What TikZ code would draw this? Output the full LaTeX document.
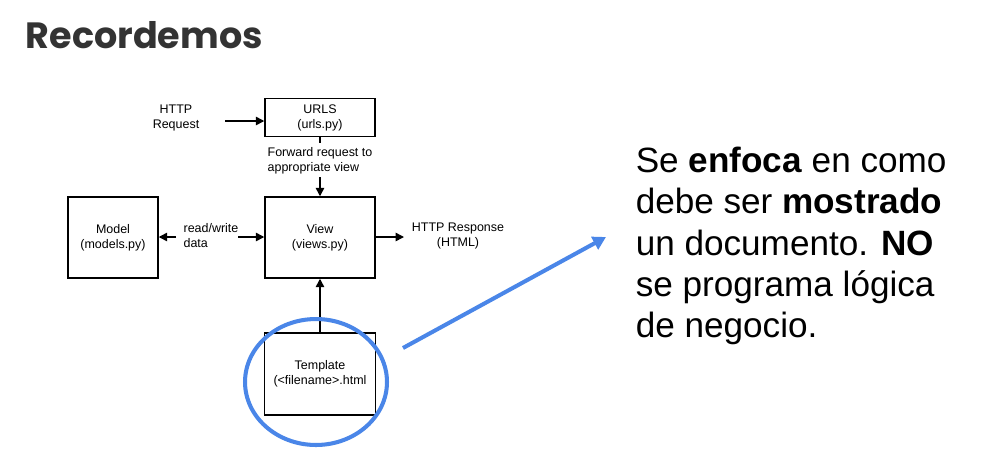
\documentclass[tikz,border=0pt]{standalone}
\usepackage{fontspec}
\setmainfont{Liberation Sans}
\newfontfamily\titlefont{Poppins}
\usepackage{tikz}
\usetikzlibrary{positioning,shapes,arrows.meta}
\definecolor{slideblue}{RGB}{74,134,232}
\definecolor{titlegray}{RGB}{51,51,51}

\begin{document}
\begin{tikzpicture}[
  x=0.02cm,y=-0.02cm,
  line width=0.85pt,
  mybox/.style={draw,rectangle,align=center,font=\fontsize{7.1}{8.5}\selectfont},
  mylabel/.style={align=center,font=\fontsize{7.1}{8.5}\selectfont},
  myarrow/.style={-{Triangle[length=1.7mm,width=1.7mm]}}
]
\useasboundingbox (0,0) rectangle (1000,457);

\node[anchor=base west,text=titlegray,inner sep=0pt,font=\fontsize{20.8}{24}\titlefont\bfseries] (title) at (25,48) {Recordemos};

\node[mybox,minimum width=2.2cm,minimum height=0.7cm] (urls) at (320,117.5) {URLS\\(urls.py)};
\node[mybox,minimum width=2.2cm,minimum height=1.62cm] (view) at (320,237.5) {View\\(views.py)};
\node[mybox,minimum width=1.8cm,minimum height=1.62cm] (model) at (113,237.5) {Model\\(models.py)};
\node[mybox,minimum width=2.22cm,minimum height=1.64cm] (tmpl) at (320,374) {Template\\(\textless filename\textgreater.html};

\node[mylabel] (req) at (176,118) {HTTP\\Request};
\node[mylabel,align=left] (fwd) at (320,161) {Forward request to\\appropriate view};
\node[mylabel,align=left] (rw) at (211,236) {read/write\\data};
\node[mylabel] (resp) at (458,236) {HTTP Response\\(HTML)};

\coordinate (reqend) at (225,121);
\coordinate (fwdtop) at (320,143);
\coordinate (fwdbot) at (320,177);
\coordinate (rwleft) at (176,237);
\coordinate (rwright) at (238,237);
\coordinate (respend) at (404,237);

\path (reqend) edge[myarrow] (urls.west |- reqend)
(urls) edge (fwdtop)
(fwdbot) edge[myarrow] (view)
(rwleft) edge[myarrow] (model.east |- rwleft)
(rwright) edge[myarrow] (view.west |- rwright)
(view.east |- respend) edge[myarrow] (respend)
(tmpl) edge[myarrow] (view);

% highlight
\node[draw=slideblue,line width=2.3pt,ellipse,minimum width=2.84cm,minimum height=2.52cm] (ring) at (316,382) {};
\coordinate (pstart) at (403,348);
\node[anchor=west,inner sep=0pt,align=left,font=\fontsize{20}{23.4}\selectfont] (note) at (635,246)
{Se \textbf{enfoca} en como\\debe ser \textbf{mostrado}\\un documento. \textbf{NO}\\se programa lógica\\de negocio.};
\coordinate (pend) at (606,237);
\draw[slideblue,line width=2.3pt,-{Triangle[length=2.6mm,width=2.8mm]}] (pstart) -- (pend);

\end{tikzpicture}
\end{document}
